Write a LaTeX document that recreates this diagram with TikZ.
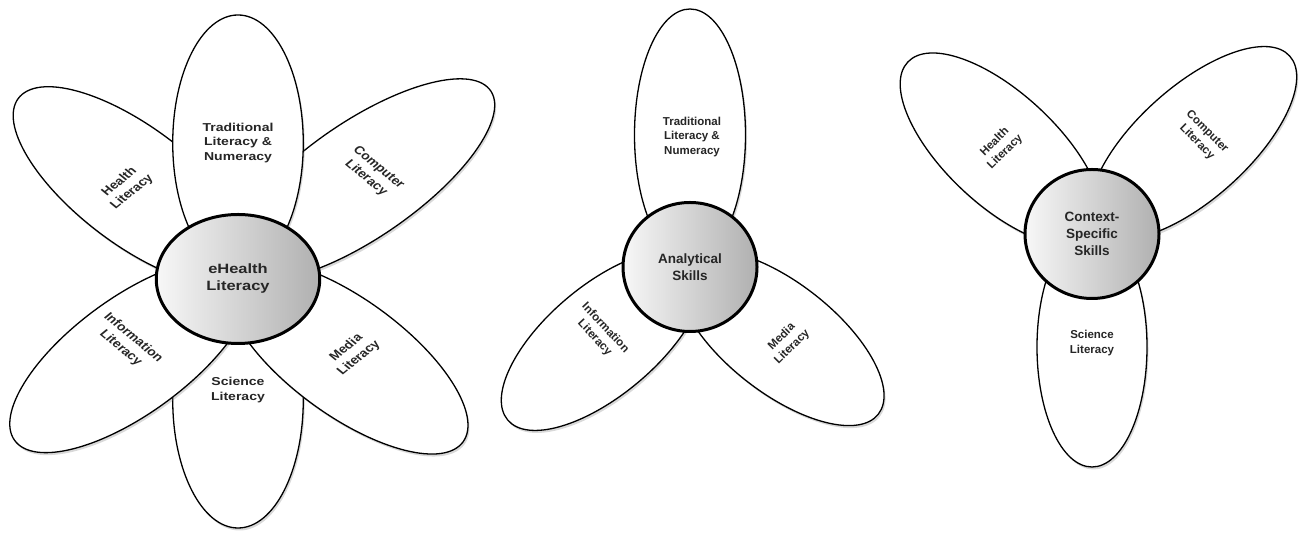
\documentclass[tikz,border=0pt]{standalone}
\usepackage{fontspec}
\setmainfont{Liberation Sans}
\usetikzlibrary{shapes.geometric, shadows}

\begin{document}
\begin{tikzpicture}[
    x=1pt, y=1pt,
    petal/.style={ellipse, draw, line width=1.3pt, fill=white, inner sep=0pt,
                  minimum height=110pt,
                  drop shadow={opacity=0.3, shadow xshift=1.5pt, shadow yshift=-2.5pt}},
    hub/.style={ellipse, draw, line width=3pt, inner sep=0pt,
                minimum width=134pt, minimum height=129pt,
                left color=gray!6, right color=gray!62, text=black!85,
                align=center, font=\bfseries\fontsize{13.5}{17}\selectfont},
    ptext/.style={align=center, inner sep=0pt, text=black!85,
                  font=\bfseries\fontsize{11.5}{14.5}\selectfont}
]
\useasboundingbox (0,0) rectangle (1299,534);

% eHealth literacy
\begin{scope}[shift={(238,263)}, xscale=1.22, transform shape]
  \node[petal, minimum width=256pt, minimum height=107pt, rotate=90] (l-sci) at (270:129) {};
  \node[petal, minimum width=260pt, minimum height=107pt, rotate=135] (l-health) at (135:120) {};
  \node[petal, minimum width=278pt, minimum height=107pt, rotate=42] (l-comp) at (42:136) {};
  \node[petal, minimum width=256pt, minimum height=107pt, rotate=224] (l-info) at (224:122) {};
  \node[petal, minimum width=256pt, minimum height=107pt, rotate=316] (l-media) at (316:124) {};
  \node[petal, minimum width=256pt, minimum height=107pt, rotate=90] (l-trad) at (90:128) {};
  \node[hub] (l-hub) at (0,-8) {eHealth\\Literacy};
  \node[ptext] (l-trad-t) at (0,128) {Traditional\\Literacy \&\\Numeracy};
  \node[ptext, rotate=45] (l-health-t) at (-92,84) {Health\\Literacy};
  \node[ptext, rotate=-45] (l-comp-t) at (110,98) {Computer\\Literacy};
  \node[ptext, rotate=-45] (l-info-t) at (-91,-72) {Information\\Literacy};
  \node[ptext, rotate=45] (l-media-t) at (94,-82) {Media\\Literacy};
  \node[ptext] (l-sci-t) at (0,-119) {Science\\Literacy};
\end{scope}

% analytical skills
\begin{scope}[shift={(690,267)}]
  \node[petal, minimum width=248pt, rotate=220] (m-info) at (220:114) {};
  \node[petal, minimum width=248pt, rotate=322] (m-media) at (322:115) {};
  \node[petal, minimum width=252pt, minimum height=111pt, rotate=90] (m-trad) at (90:132) {};
  \node[hub] (m-hub) at (0,0) {Analytical\\Skills};
  \node[ptext] (m-trad-t) at (2,130) {Traditional\\Literacy \&\\Numeracy};
  \node[ptext, rotate=-47] (m-info-t) at (-90,-66) {Information\\Literacy};
  \node[ptext, rotate=45] (m-media-t) at (97,-75) {Media\\Literacy};
\end{scope}

% context-specific skills
\begin{scope}[shift={(1092,300)}]
  \node[petal, minimum width=240pt, rotate=90] (r-sci) at (270:113) {};
  \node[petal, minimum width=256pt, minimum height=112pt, rotate=137] (r-health) at (137:124) {};
  \node[petal, minimum width=260pt, minimum height=112pt, rotate=42] (r-comp) at (42:136) {};
  \node[hub] (r-hub) at (0,0) {Context-\\Specific\\Skills};
  \node[ptext, rotate=45] (r-health-t) at (-92,87) {Health\\Literacy};
  \node[ptext, rotate=-45] (r-comp-t) at (110,97) {Computer\\Literacy};
  \node[ptext] (r-sci-t) at (0,-109) {Science\\Literacy};
\end{scope}
\end{tikzpicture}
\end{document}
